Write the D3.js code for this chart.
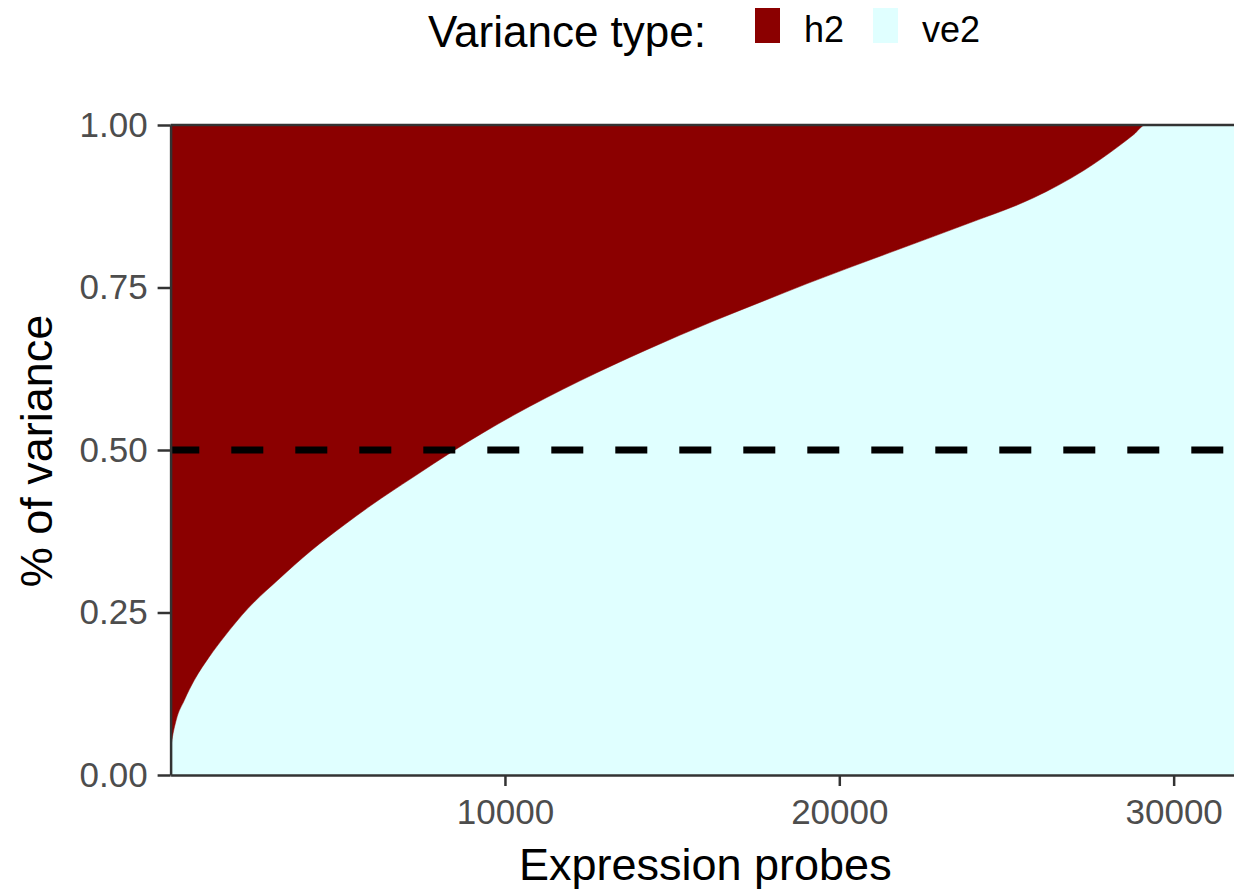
<!DOCTYPE html>
<html>
<head>
<meta charset="utf-8">
<script src="https://cdn.jsdelivr.net/npm/d3@7"></script>
<style>
  body { margin: 0; background: #fff; }
  svg { display: block; font-family: "Liberation Sans", Arial, sans-serif; }
</style>
</head>
<body>
<svg id="chart" width="1234" height="893"></svg>
<script>
// probes sorted by proportion of environmental variance
const probes = [0, 40, 170, 410, 710, 1160, 1610, 2310, 3210, 4200, 5200, 6000, 7250, 8500, 10240, 12230, 14230, 16220, 17720, 19040, 21740, 23830, 25810, 27310, 28320, 28800, 29160, 32000];
const ve2 = [0.04, 0.054, 0.085, 0.115, 0.146, 0.182, 0.213, 0.256, 0.30, 0.345, 0.385, 0.415, 0.458, 0.5, 0.553, 0.606, 0.654, 0.698, 0.729, 0.756, 0.808, 0.848, 0.888, 0.93, 0.966, 0.985, 1.0, 1.0];
const h2 = [0.96, 0.946, 0.915, 0.885, 0.854, 0.818, 0.787, 0.744, 0.70, 0.655, 0.615, 0.585, 0.542, 0.5, 0.447, 0.394, 0.346, 0.302, 0.271, 0.244, 0.192, 0.152, 0.112, 0.07, 0.034, 0.015, 0.0, 0.0];
const xTicks = [10000, 20000, 30000];
const yTicks = [0, 0.25, 0.5, 0.75, 1];
const keys = ['ve2', 'h2'];
const legendKeys = ['h2', 've2'];
const colors = { h2: '#8b0000', ve2: '#e0ffff' };

const svg = d3.select('#chart');
const padLeft = 170.6, padTop = 125, padBottom = 775;

const x = d3.scaleLinear()
  .domain([0, 32000])
  .range([padLeft, padLeft + 32000 * 0.033435]);

const y = d3.scaleLinear()
  .domain([0, 1])
  .range([padBottom, padTop]);

const rows = probes.map((p, i) => ({ probe: p, ve2: ve2[i], h2: h2[i] }));
const stacked = d3.stack().keys(keys)(rows);

const area = d3.area()
  .x(d => x(d.data.probe))
  .y0(d => y(d[0]))
  .y1(d => y(d[1]))
  .curve(d3.curveMonotoneX);

svg.append('clipPath').attr('id', 'panel')
  .append('rect')
  .attr('x', padLeft).attr('y', padTop)
  .attr('width', 1234 - padLeft).attr('height', padBottom - padTop);

const g = svg.append('g').attr('clip-path', 'url(#panel)');

g.selectAll('path.layer')
  .data(stacked)
  .enter()
  .append('path')
  .attr('class', 'layer')
  .attr('d', area)
  .attr('fill', d => colors[d.key])
  .attr('stroke', d => colors[d.key])
  .attr('stroke-width', 0.5);

// 50% reference line
g.append('line')
  .attr('x1', x(0)).attr('x2', x(32000))
  .attr('y1', y(0.5)).attr('y2', y(0.5))
  .attr('stroke', '#000')
  .attr('stroke-width', 7)
  .attr('stroke-dasharray', '32,32')
  .attr('stroke-dashoffset', 3.3);

// panel border (top) + axes
svg.append('line')
  .attr('x1', padLeft).attr('x2', 1234)
  .attr('y1', padTop).attr('y2', padTop)
  .attr('stroke', '#333').attr('stroke-width', 2.5);

const xAxis = svg.append('g')
  .attr('transform', 'translate(0,' + padBottom + ')')
  .call(d3.axisBottom(x).tickValues(xTicks).tickFormat(d3.format('d')).tickSize(11).tickPadding(13).tickSizeOuter(0));

const yAxis = svg.append('g')
  .attr('transform', 'translate(' + padLeft + ',0)')
  .call(d3.axisLeft(y).tickValues(yTicks).tickFormat(d3.format('.2f')).tickSize(13).tickPadding(10).tickSizeOuter(0));

[xAxis, yAxis].forEach(a => {
  a.select('.domain').attr('stroke', '#333').attr('stroke-width', 2.5);
  a.selectAll('.tick line').attr('stroke', '#333').attr('stroke-width', 2.5);
  a.selectAll('.tick text')
    .attr('fill', '#4d4d4d')
    .style('font-size', '35px')
    .style('font-family', '"Liberation Sans", Arial, sans-serif');
});

// axis titles
svg.append('text')
  .attr('x', (padLeft + 1240) / 2)
  .attr('y', 880)
  .attr('text-anchor', 'middle')
  .style('font-size', '45px')
  .text('Expression probes');

svg.append('text')
  .attr('transform', 'translate(52,451) rotate(-90)')
  .attr('text-anchor', 'middle')
  .style('font-size', '45px')
  .text('% of variance');

// legend
const legend = svg.append('g');
legend.append('text')
  .attr('x', 428).attr('y', 47)
  .style('font-size', '44px')
  .text('Variance type:');

const legendX = { h2: 755, ve2: 873 };
legendKeys.forEach(k => {
  legend.append('rect')
    .attr('x', legendX[k]).attr('y', 8)
    .attr('width', 25).attr('height', 35)
    .attr('fill', colors[k]);
  legend.append('text')
    .attr('x', legendX[k] + 49).attr('y', 42)
    .style('font-size', '36px')
    .text(k);
});
</script>
</body>
</html>
